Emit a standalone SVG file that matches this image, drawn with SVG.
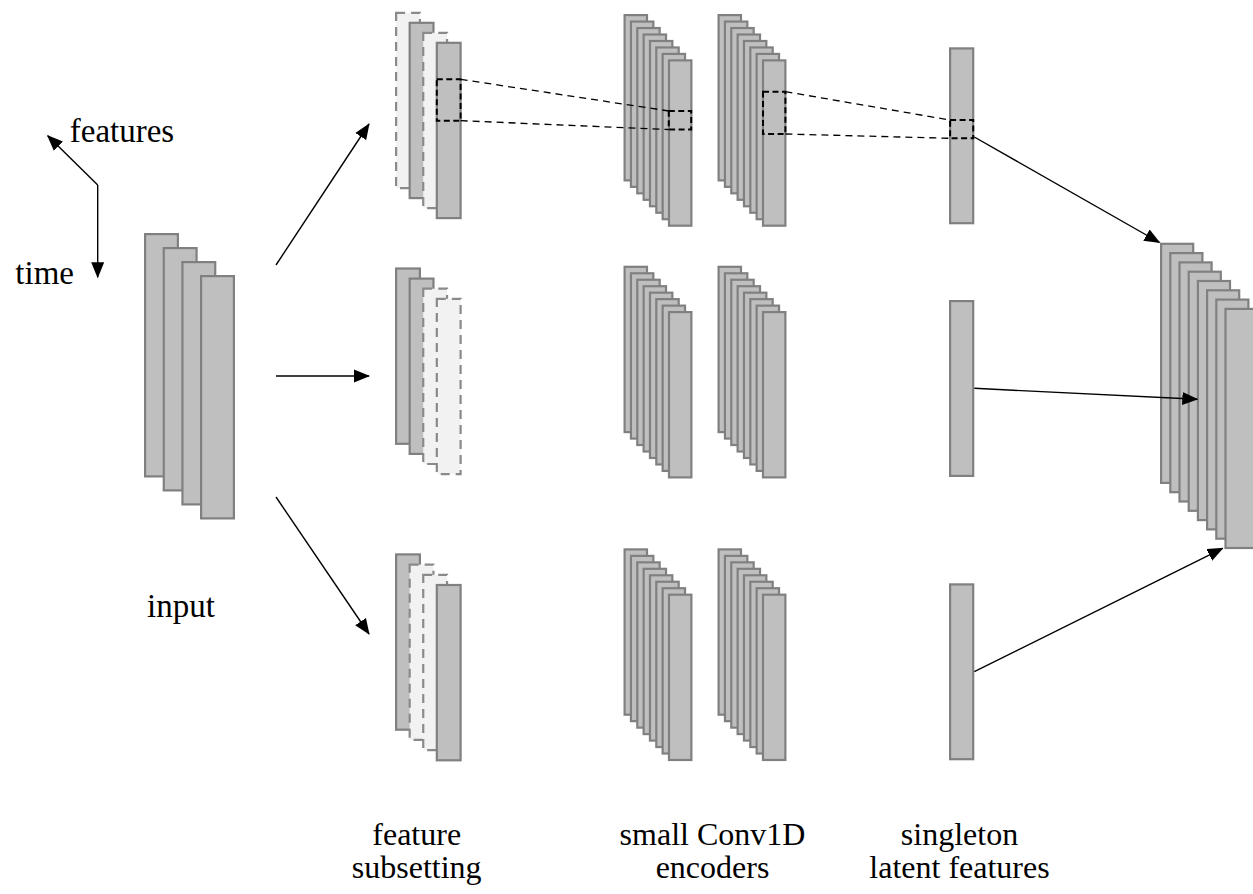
<svg xmlns="http://www.w3.org/2000/svg" xmlns:xlink="http://www.w3.org/1999/xlink" width="1253" height="894" viewBox="0 0 1253 894">
  <style>
    .blk { fill: #bfbfbf; stroke: #808080; stroke-width: 2.2; }
    .ghost { fill: #f2f2f2; stroke: #8a8a8a; stroke-width: 2.2; stroke-dasharray: 9 6; }
    .win { fill: none; stroke: #000; stroke-width: 2; stroke-dasharray: 6 3.5; }
    .proj { fill: none; stroke: #000; stroke-width: 1.3; stroke-dasharray: 7 5; }
    .arr { fill: none; stroke: #000; stroke-width: 1.4; marker-end: url(#head); }
    text { font-family: "Liberation Serif", "Times New Roman", serif; font-size: 33px; fill: #000; text-anchor: middle; }
    .cap { font-size: 32px; }
  </style>
  <defs>
    <marker id="head" markerUnits="userSpaceOnUse" markerWidth="16" markerHeight="14" viewBox="0 0 16 14" refX="15" refY="7" orient="auto">
      <path d="M0,0.5 L16,7 L0,13.5 z" fill="#000"/>
    </marker>
    <!-- eight stacked Conv1D filter maps -->
    <g id="convStack">
      <rect class="blk" x="1.1" y="1.1" width="22.4" height="165.3"/>
      <rect class="blk" x="7.44" y="7.57" width="22.4" height="165.3"/>
      <rect class="blk" x="13.78" y="14.04" width="22.4" height="165.3"/>
      <rect class="blk" x="20.12" y="20.51" width="22.4" height="165.3"/>
      <rect class="blk" x="26.46" y="26.98" width="22.4" height="165.3"/>
      <rect class="blk" x="32.8" y="33.45" width="22.4" height="165.3"/>
      <rect class="blk" x="39.14" y="39.92" width="22.4" height="165.3"/>
      <rect class="blk" x="45.48" y="46.39" width="22.4" height="165.3"/>
    </g>
  </defs>

  <rect width="1253" height="894" fill="#fff"/>

  <!-- axis legend -->
  <g id="axes">
    <line class="arr" x1="97.7" y1="185" x2="47.7" y2="135.7"/>
    <line class="arr" x1="97.7" y1="185" x2="97.7" y2="277.3"/>
    <text x="122" y="141.7">features</text>
    <text x="44.7" y="284.3">time</text>
  </g>

  <!-- input tensor -->
  <g id="input">
    <rect class="blk" x="145.1" y="234.1" width="32.8" height="242.3"/>
    <rect class="blk" x="163.77" y="248.1" width="32.8" height="242.3"/>
    <rect class="blk" x="182.44" y="262.1" width="32.8" height="242.3"/>
    <rect class="blk" x="201.11" y="276.1" width="32.8" height="242.3"/>
    <text x="181" y="616.7">input</text>
  </g>

  <!-- feature subsets -->
  <g id="subset-top">
    <rect class="ghost" x="396.1" y="12.8" width="23.8" height="175.3"/>
    <rect class="blk" x="409.67" y="22.8" width="23.8" height="175.3"/>
    <rect class="ghost" x="423.24" y="32.8" width="23.8" height="175.3"/>
    <rect class="blk" x="436.81" y="42.8" width="23.8" height="175.3"/>
  </g>
  <g id="subset-mid">
    <rect class="blk" x="396.1" y="268.5" width="23.8" height="175.3"/>
    <rect class="blk" x="409.67" y="278.6" width="23.8" height="175.3"/>
    <rect class="ghost" x="423.24" y="288.7" width="23.8" height="175.3"/>
    <rect class="ghost" x="436.81" y="298.8" width="23.8" height="175.3"/>
  </g>
  <g id="subset-bot">
    <rect class="blk" x="396.1" y="554.4" width="23.8" height="175.3"/>
    <rect class="ghost" x="409.67" y="564.6" width="23.8" height="175.3"/>
    <rect class="ghost" x="423.24" y="574.8" width="23.8" height="175.3"/>
    <rect class="blk" x="436.81" y="585" width="23.8" height="175.3"/>
  </g>

  <!-- Conv1D encoders -->
  <g id="enc-top-1"><use xlink:href="#convStack" x="623.5" y="14"/></g>
  <g id="enc-top-2"><use xlink:href="#convStack" x="717.5" y="14"/></g>
  <g id="enc-mid-1"><use xlink:href="#convStack" x="623.5" y="265.7"/></g>
  <g id="enc-mid-2"><use xlink:href="#convStack" x="717.5" y="265.7"/></g>
  <g id="enc-bot-1"><use xlink:href="#convStack" x="623.5" y="548.3"/></g>
  <g id="enc-bot-2"><use xlink:href="#convStack" x="717.5" y="548.3"/></g>

  <!-- singleton latent features -->
  <g id="latent-top"><rect class="blk" x="950.1" y="48.4" width="23.1" height="174.8"/></g>
  <g id="latent-mid"><rect class="blk" x="950.1" y="301.1" width="23.1" height="174.8"/></g>
  <g id="latent-bot"><rect class="blk" x="950.1" y="584.4" width="23.1" height="174.8"/></g>

  <!-- concatenated output -->
  <g id="output">
    <rect class="blk" x="1161.1" y="243.8" width="32.1" height="239.1"/>
    <rect class="blk" x="1170.3" y="253.1" width="32.1" height="239.1"/>
    <rect class="blk" x="1179.5" y="262.4" width="32.1" height="239.1"/>
    <rect class="blk" x="1188.7" y="271.7" width="32.1" height="239.1"/>
    <rect class="blk" x="1197.9" y="281" width="32.1" height="239.1"/>
    <rect class="blk" x="1207.1" y="290.3" width="32.1" height="239.1"/>
    <rect class="blk" x="1216.3" y="299.6" width="32.1" height="239.1"/>
    <rect class="blk" x="1225.5" y="308.9" width="32.1" height="239.1"/>
  </g>

  <!-- receptive-field windows -->
  <g id="windows">
    <rect class="win" x="436.8" y="79.3" width="23.8" height="41.4"/>
    <rect class="win" x="668.8" y="111" width="22.4" height="18.5"/>
    <rect class="win" x="763" y="91.7" width="22.4" height="42.3"/>
    <rect class="win" x="950.1" y="120" width="23.1" height="18.3"/>
  </g>

  <!-- connectors -->
  <g id="connectors">
    <line class="proj" x1="460.6" y1="79.3" x2="668.8" y2="111"/>
    <line class="proj" x1="460.6" y1="120.7" x2="668.8" y2="129.5"/>
    <line class="proj" x1="785.4" y1="91.7" x2="950.1" y2="120"/>
    <line class="proj" x1="785.4" y1="134" x2="950.1" y2="138.3"/>

    <line class="arr" x1="276" y1="265" x2="369" y2="124"/>
    <line class="arr" x1="276" y1="376" x2="369" y2="376"/>
    <line class="arr" x1="276" y1="497" x2="369" y2="634"/>

    <line class="arr" x1="974.3" y1="137" x2="1159.5" y2="242.5"/>
    <line class="arr" x1="974.3" y1="388.3" x2="1197.3" y2="399.3"/>
    <line class="arr" x1="974.3" y1="671.7" x2="1222.7" y2="548.3"/>
  </g>

  <!-- column captions -->
  <g id="captions">
    <text class="cap" x="416.7" y="845">feature</text>
    <text class="cap" x="416.7" y="878">subsetting</text>
    <text class="cap" x="712.5" y="845">small Conv1D</text>
    <text class="cap" x="712.5" y="878">encoders</text>
    <text class="cap" x="959.5" y="845">singleton</text>
    <text class="cap" x="959.5" y="878">latent features</text>
  </g>
</svg>
